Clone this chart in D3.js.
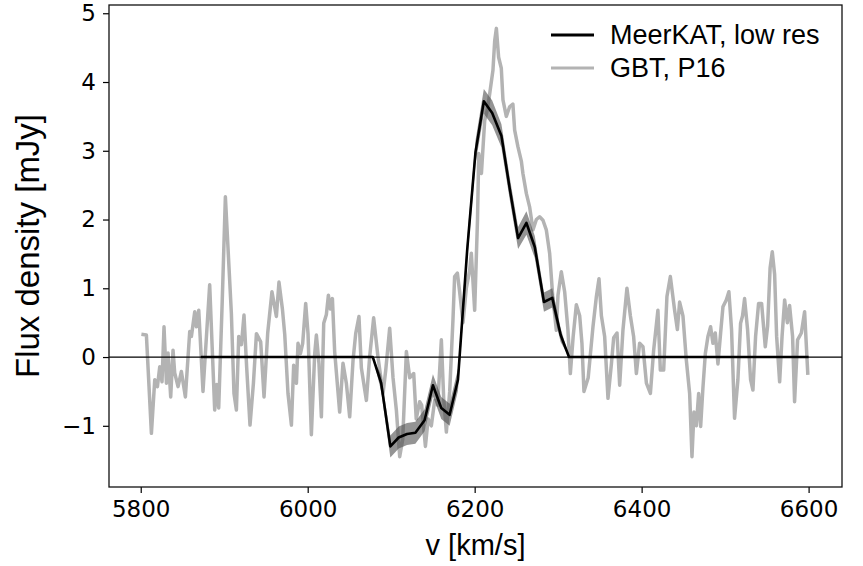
<!DOCTYPE html>
<html>
<head>
<meta charset="utf-8">
<script src="https://cdn.jsdelivr.net/npm/d3@7"></script>
<style>
  body { margin: 0; background: #fff; }
  .tick text { font-family: 'DejaVu Sans', sans-serif; font-size: 23px; fill: #000; }
  .label { font-family: 'Liberation Sans', Arial, sans-serif; fill: #000; }
</style>
</head>
<body>
<script>
/* global d3 */
// GBT spectrum (P16), velocity in km/s and flux in mJy
var gbtV = [5800.8, 5806.8, 5812.8, 5816.8, 5820.0, 5822.8, 5825.5, 5827.9, 5830.8, 5832.7,
  5835.9, 5838.7, 5840.7, 5844.7, 5848.7, 5853.5, 5858.7, 5860.7, 5864.7, 5866.7,
  5869.5, 5871.5, 5874.6, 5882.6, 5888.6, 5891.0, 5893.4, 5897.6, 5901.4, 5908.6,
  5911.7, 5914.6, 5917.4, 5920.6, 5923.7, 5926.9, 5930.9, 5935.0, 5938.6, 5943.7,
  5947.7, 5952.1, 5957.2, 5962.5, 5965.6, 5969.7, 5972.5, 5976.4, 5980.5, 5983.2,
  5986.5, 5988.4, 5991.3, 5994.0, 5997.6, 6000.4, 6004.4, 6008.4, 6010.4, 6013.5,
  6016.4, 6019.2, 6022.4, 6024.8, 6027.2, 6029.6, 6032.3, 6038.3, 6042.3, 6046.3,
  6050.3, 6054.3, 6057.5, 6061.4, 6064.3, 6070.3, 6074.2, 6079.0, 6084.2, 6090.2,
  6093.4, 6098.2, 6102.2, 6106.2, 6110.2, 6113.8, 6118.2, 6122.2, 6127.0, 6130.0,
  6134.1, 6136.5, 6141.0, 6144.3, 6148.1, 6152.1, 6155.7, 6160.1, 6162.9, 6166.1,
  6170.1, 6174.0, 6176.0, 6179.3, 6182.0, 6186.0, 6190.0, 6194.0, 6196.0, 6200.0,
  6203.4, 6204.9, 6208.1, 6212.0, 6215.3, 6218.0, 6221.9, 6224.0, 6226.0, 6228.7,
  6231.9, 6233.9, 6237.9, 6241.9, 6245.8, 6247.9, 6251.8, 6255.9, 6257.8, 6261.9,
  6265.9, 6269.8, 6273.9, 6277.8, 6281.8, 6285.8, 6289.8, 6293.4, 6297.8, 6299.8,
  6303.8, 6307.8, 6311.7, 6314.6, 6318.0, 6321.8, 6325.8, 6328.5, 6330.9, 6336.0,
  6341.7, 6345.8, 6348.9, 6351.8, 6355.7, 6359.7, 6363.8, 6366.5, 6370.5, 6373.7,
  6377.6, 6382.4, 6386.5, 6390.4, 6393.7, 6397.6, 6401.6, 6405.7, 6410.5, 6414.4,
  6419.5, 6422.4, 6426.4, 6430.3, 6434.4, 6439.5, 6442.8, 6445.5, 6449.5, 6453.5,
  6457.5, 6460.3, 6462.7, 6465.5, 6468.3, 6470.7, 6473.4, 6476.3, 6479.4, 6482.6,
  6485.4, 6488.2, 6491.4, 6494.6, 6497.4, 6501.4, 6504.5, 6507.7, 6511.3, 6515.3,
  6518.5, 6520.9, 6523.3, 6526.9, 6530.5, 6533.3, 6536.5, 6540.1, 6543.7, 6548.1,
  6550.9, 6553.9, 6556.5, 6559.3, 6561.7, 6565.3, 6568.2, 6571.3, 6574.5, 6577.2,
  6580.8, 6583.2, 6586.8, 6591.3, 6595.2, 6599.1]
var gbtF = [0.33, 0.32, -1.11, -0.33, -0.43, -0.14, -0.36, 0.44, -0.38, 0.06,
  -0.58, 0.10, -0.23, -0.43, -0.21, -0.58, 0.37, 0.30, 0.66, 0.44,
  0.68, 0.22, -0.50, 1.05, -0.77, -0.40, -0.74, 0.80, 2.33, 0.63,
  -0.53, -0.77, 0.30, 0.18, 0.61, -0.15, -0.99, -0.38, 0.34, 0.22,
  -0.58, 0.35, 0.95, 0.59, 1.09, 0.70, 0.33, -0.53, -0.99, -0.12,
  -0.38, 0.20, 0.05, 0.20, 0.78, 0.34, -1.13, 0.05, 0.32, -0.09,
  -0.87, 0.49, 0.62, 0.90, 0.70, 0.85, 0.08, -0.80, -0.09, -0.38,
  -0.87, -0.05, 0.34, 0.59, -0.16, -0.63, 0.00, 0.57, 0.00, -0.53,
  -0.20, 0.42, -0.30, -0.77, -1.45, -1.20, 0.08, -0.30, -0.24, -0.90,
  -0.65, -0.70, -1.30, -0.90, -1.00, -0.63, -0.70, 0.25, -0.60, -1.09,
  -0.50, 0.54, 1.17, 1.22, 0.95, 0.50, 1.00, 1.26, 1.51, 0.68,
  2.00, 2.96, 2.67, 3.44, 3.60, 3.83, 4.17, 4.60, 4.78, 4.36,
  4.20, 3.74, 3.50, 3.64, 3.68, 3.30, 3.06, 2.85, 2.67, 2.38,
  2.18, 1.85, 2.00, 2.04, 1.99, 1.85, 1.51, 0.90, 0.39, 0.90,
  1.24, 0.95, 0.40, -0.24, 0.30, 0.76, 0.60, 0.20, -0.50, -0.30,
  0.44, 0.88, 1.14, 0.60, 0.30, -0.60, -0.10, 0.28, 0.35, -0.41,
  0.39, 1.00, 0.60, 0.30, -0.24, 0.20, 0.15, -0.38, -0.53, 0.10,
  0.68, -0.19, -0.19, 0.88, 1.17, 0.68, 0.40, 0.80, 0.60, -0.04,
  -0.53, -1.45, -0.80, -1.00, -0.53, -1.01, -0.45, 0.05, 0.30, 0.44,
  0.20, 0.35, -0.10, 0.35, 0.73, 0.83, 0.95, 0.40, -0.89, -0.33,
  0.49, 0.60, 0.85, 0.40, -0.33, -0.48, 0.30, 0.78, 0.78, 0.15,
  0.45, 1.30, 1.53, 1.20, 0.30, -0.36, 0.30, 0.83, 0.50, 0.75,
  0.30, -0.65, 0.25, 0.35, 0.66, -0.26]

// MeerKAT low resolution spectrum with its uncertainty
var meerV = [5872, 6068, 6078, 6088, 6099, 6109, 6119, 6129, 6140, 6150, 6160, 6170,
  6180, 6191, 6201, 6211, 6221, 6232, 6242, 6252, 6262, 6272, 6283, 6293,
  6303, 6313, 6323, 6600]
var meerF = [0, 0, 0, -0.38, -1.30, -1.17, -1.12, -1.10, -0.92, -0.41, -0.74, -0.84,
  -0.33, 1.55, 2.98, 3.72, 3.55, 3.22, 2.45, 1.73, 1.95, 1.60, 0.80, 0.86,
  0.32, 0, 0, 0]
var meerErr = [0, 0, 0, 0.12, 0.16, 0.16, 0.16, 0.16, 0.16, 0.16, 0.16, 0.16,
  0.16, 0.16, 0.17, 0.18, 0.18, 0.17, 0.16, 0.16, 0.17, 0.16, 0.14, 0.14,
  0.1, 0, 0, 0]

var xTicks = [5800, 6000, 6200, 6400, 6600]
var yTicks = [-1, 0, 1, 2, 3, 4, 5]
var legendNames = ['MeerKAT, low res', 'GBT, P16']

var W = 863
var H = 566
var margin = {top: 5, right: 21, bottom: 79, left: 109}
var width = W - margin.left - margin.right
var height = H - margin.top - margin.bottom

var x = d3.scaleLinear().domain([5762, 6640]).range([0, width])
var y = d3.scaleLinear().domain([-1.89, 5.12]).range([height, 0])

var svg = d3.select('body').append('svg')
  .attr('width', W)
  .attr('height', H)
  .append('g')
  .attr('transform', 'translate(' + margin.left + ',' + margin.top + ')')

svg.append('clipPath').attr('id', 'clip')
  .append('rect').attr('width', width).attr('height', height)

var plot = svg.append('g').attr('clip-path', 'url(#clip)')

var gbt = gbtV.map(function (v, i) { return {v: v, f: gbtF[i]} })
var meer = meerV.map(function (v, i) { return {v: v, f: meerF[i], e: meerErr[i]} })

var line = d3.line()
  .x(function (d) { return x(d.v) })
  .y(function (d) { return y(d.f) })

plot.append('path')
  .datum(gbt)
  .attr('d', line)
  .attr('fill', 'none')
  .attr('stroke', '#b3b3b3')
  .attr('stroke-width', 3.5)
  .attr('stroke-linejoin', 'round')

plot.append('path')
  .datum(meer)
  .attr('d', d3.area()
    .x(function (d) { return x(d.v) })
    .y0(function (d) { return y(d.f - d.e) })
    .y1(function (d) { return y(d.f + d.e) }))
  .attr('fill', '#4d4d4d')
  .attr('fill-opacity', 0.6)

plot.append('line')
  .attr('x1', 0).attr('x2', width)
  .attr('y1', y(0)).attr('y2', y(0))
  .attr('stroke', '#000')
  .attr('stroke-width', 1.3)

plot.append('path')
  .datum(meer)
  .attr('d', line)
  .attr('fill', 'none')
  .attr('stroke', '#000')
  .attr('stroke-width', 2.6)
  .attr('stroke-linejoin', 'round')

// axes
var xAxis = d3.axisBottom(x).tickValues(xTicks).tickSize(6).tickPadding(8)
  .tickFormat(d3.format('d'))
var yAxis = d3.axisLeft(y).tickValues(yTicks).tickSize(6).tickPadding(7)
  .tickFormat(function (d) { return d < 0 ? '\u2212' + Math.abs(d) : d })

svg.append('g')
  .attr('transform', 'translate(0,' + height + ')')
  .call(xAxis)
  .call(function (g) { g.select('.domain').remove() })

svg.append('g')
  .call(yAxis)
  .call(function (g) { g.select('.domain').remove() })

svg.selectAll('.tick line').attr('stroke', '#000').attr('stroke-width', 1.2)

svg.append('rect')
  .attr('width', width)
  .attr('height', height)
  .attr('fill', 'none')
  .attr('stroke', '#111')
  .attr('stroke-width', 1.3)

svg.append('text')
  .attr('class', 'label')
  .attr('x', width / 2)
  .attr('y', height + 68)
  .attr('text-anchor', 'middle')
  .style('font-size', '29px')
  .text('v [km/s]')

svg.append('text')
  .attr('class', 'label')
  .attr('transform', 'translate(' + (-70) + ',' + (height / 2) + ') rotate(-90)')
  .attr('text-anchor', 'middle')
  .style('font-size', '33px')
  .text('Flux density [mJy]')

// legend
var legend = svg.selectAll('.legend')
  .data(legendNames)
  .enter().append('g')
  .attr('class', 'legend')
  .attr('transform', function (d, i) { return 'translate(442,' + (30 + i * 33) + ')' })

legend.append('line')
  .attr('x1', 0).attr('x2', 43)
  .attr('stroke', function (d, i) { return i === 0 ? '#000' : '#b3b3b3' })
  .attr('stroke-width', 3)

legend.append('text')
  .attr('class', 'label')
  .attr('x', 59)
  .attr('y', 9)
  .style('font-size', '27px')
  .text(function (d) { return d })
</script>
</body>
</html>
